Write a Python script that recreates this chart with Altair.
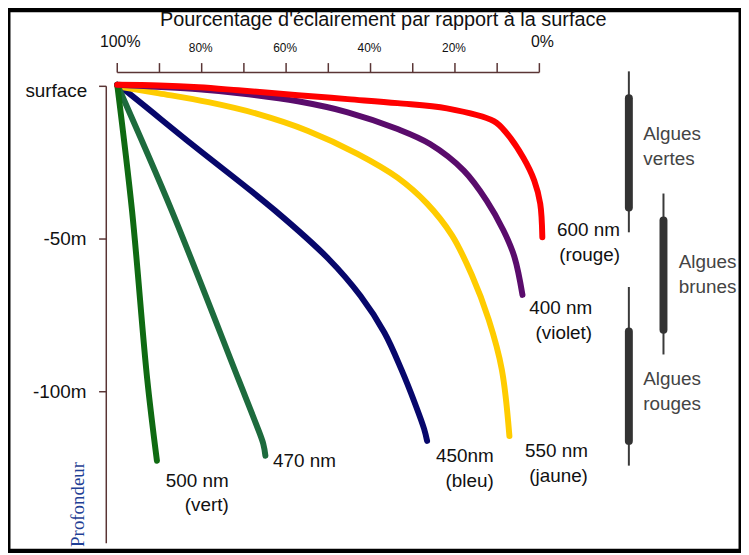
import altair as alt
import pandas as pd

# ---------------- data ----------------
# x = % of surface light (100 -> 0), depth in metres (0 = surface)
x_500 = [100, 96.5, 92.9, 90.6]
d_500 = [0.5, -40.7, -95.9, -122.6]
x_470 = [100, 87.1, 71.3, 67.1, 65.4, 64.9]
d_470 = [0.5, -40.7, -95.9, -110.6, -117.1, -121.0]
x_450 = [100, 97.9, 82.4, 62.6, 50.1, 42.4, 36.7, 32.7, 29.4, 27.3, 26.6]
d_450 = [0.5, -1.6, -18.9, -40.7, -56.3, -68.6, -80.7, -92.7, -104.1, -112.2, -116.1]
x_550 = [100, 90.1, 78.4, 66.6, 54.8, 43.1, 33.6, 26.6, 20.7, 16.0, 12.0, 8.9, 7.1]
d_550 = [0, -2.3, -5.2, -9.1, -14.6, -22.1, -29.9, -38.4, -48.8, -61.8, -76.4, -92.7, -114.5]
x_400 = [100, 80.7, 68.9, 57.2, 45.4, 33.6, 25.9, 17.9, 12.5, 8.5, 5.9, 4.0]
d_400 = [0.5, -1.0, -2.6, -4.9, -8.5, -14.0, -18.9, -27.6, -37.4, -47.2, -55.9, -68.3]
x_600 = [100, 90.1, 80.7, 71.3, 57.2, 45.4, 33.6, 21.9, 10.8, 7.8, 3.8, 1.2, -0.2, -0.7]
d_600 = [0.5, 0.3, -0.3, -1.3, -2.9, -4.2, -5.5, -7.2, -11.4, -15.3, -23.4, -30.9, -38.4, -49.4]

x_ticks = [100, 90, 80, 70, 60, 50, 40, 30, 20, 10, 0]
x_big_labels = [100, 0]
x_big_text = ["100%", "0%"]
x_small_labels = [80, 60, 40, 20]
x_small_text = ["80%", "60%", "40%", "20%"]

y_ticks = [0, -50, -100]
y_label_values = [-50, -100]
y_label_text = ["-50m", "-100m"]

# wavelength annotations (anchor in data units, right aligned)
wl_text = ["600 nm", "(rouge)", "400 nm", "(violet)", "500 nm", "(vert)",
           "470 nm", "450nm", "(bleu)", "550 nm", "(jaune)"]
wl_x = [-19.1, -19.1, -12.5, -12.5, 73.6, 73.6, 48.2, 10.8, 10.8, -11.5, -11.5]
wl_d = [-47.2, -55.3, -72.5, -80.7, -129.1, -137.2, -122.6, -121.0, -129.1, -119.3, -127.5]

# algae depth ranges
alg_x = [-21.2, -29.4, -21.2]
alg_thin_top = [4.9, -35.1, -65.7]
alg_thin_bot = [-47.8, -87.8, -124.2]
alg_thick_top = [-3.9, -43.9, -80.3]
alg_thick_bot = [-39.7, -79.7, -116.1]
alg_text = ["Algues", "vertes", "Algues", "brunes", "Algues", "rouges"]
alg_tx = [-24.6, -24.6, -33.0, -33.0, -24.6, -24.6]
alg_td = [-15.6, -23.7, -57.6, -65.7, -95.9, -104.1]

# ---------------- layout / style ----------------
W, H = 738, 545
X_DOMAIN = [125.882, -47.765]
Y_DOMAIN = [-152.2, 25.04]
SANS = "Liberation Sans"
AXIS_COLOR = "#5a3535"

xs = alt.Scale(domain=X_DOMAIN, nice=False, zero=False)
ys = alt.Scale(domain=Y_DOMAIN, nice=False, zero=False)


def X(f):
    return alt.X(f, type="quantitative", scale=xs, axis=None)


def Y(f):
    return alt.Y(f, type="quantitative", scale=ys, axis=None)


def XD(v):
    return alt.XDatum(v, type="quantitative", scale=xs, axis=None)


def YD(v):
    return alt.YDatum(v, type="quantitative", scale=ys, axis=None)


layers = []

# curves
curves = [
    (x_450, d_450, "#07076b"),
    (x_550, d_550, "#ffcc00"),
    (x_470, d_470, "#1d6b3d"),
    (x_500, d_500, "#0f6a12"),
    (x_400, d_400, "#5a0c6c"),
    (x_600, d_600, "#ff0000"),
]
for xv, dv, col in curves:
    df = pd.DataFrame({"x": xv, "d": dv, "i": list(range(len(xv)))})
    layers.append(
        alt.Chart(df).mark_line(strokeWidth=6, strokeCap="round", strokeJoin="round",
                                interpolate="catmull-rom", color=col)
        .encode(x=X("x"), y=Y("d"), order=alt.Order("i:Q"))
    )

one = pd.DataFrame({"a": [0]})

# top axis
layers.append(alt.Chart(one).mark_rule(color=AXIS_COLOR, strokeWidth=1.5)
              .encode(x=XD(100), x2=alt.X2Datum(0), y=YD(4.55)))
layers.append(alt.Chart(pd.DataFrame({"v": x_ticks})).mark_rule(color=AXIS_COLOR, strokeWidth=1.5)
              .encode(x=X("v"), y=YD(7.6), y2=alt.Y2Datum(4.55)))
layers.append(alt.Chart(pd.DataFrame({"v": x_big_labels, "t": x_big_text}))
              .mark_text(font=SANS, fontSize=16, color="#111", baseline="middle", align="center", dx=3)
              .encode(x=X("v"), y=YD(14.6), text="t:N"))
layers.append(alt.Chart(pd.DataFrame({"v": x_small_labels, "t": x_small_text}))
              .mark_text(font=SANS, fontSize=12, color="#111", baseline="middle", align="center", dx=-1)
              .encode(x=X("v"), y=YD(12.7), text="t:N"))
layers.append(alt.Chart(one).mark_text(font=SANS, fontSize=20, color="#111", baseline="middle", align="center",
                                       text="Pourcentage d'éclairement par rapport à la surface")
              .encode(x=XD(37.0), y=YD(21.6)))

# left axis
layers.append(alt.Chart(one).mark_rule(color=AXIS_COLOR, strokeWidth=1.5)
              .encode(x=XD(102.6), y=YD(0), y2=alt.Y2Datum(-149.6)))
layers.append(alt.Chart(pd.DataFrame({"v": y_ticks})).mark_rule(color=AXIS_COLOR, strokeWidth=1.5)
              .encode(x=XD(104.3), x2=alt.X2Datum(102.6), y=Y("v")))
layers.append(alt.Chart(one).mark_text(font=SANS, fontSize=19, color="#111", baseline="middle", align="right",
                                       text="surface", dy=5)
              .encode(x=XD(107.1), y=YD(0)))
layers.append(alt.Chart(pd.DataFrame({"v": y_label_values, "t": y_label_text}))
              .mark_text(font=SANS, fontSize=19, color="#111", baseline="middle", align="right")
              .encode(x=XD(107.3), y=Y("v"), text="t:N"))
layers.append(alt.Chart(one).mark_text(font="Liberation Serif", fontSize=19, color="#1f3f95",
                                       baseline="middle", align="left", angle=270, text="Profondeur")
              .encode(x=XD(109.4), y=YD(-150.8)))

# wavelength labels
layers.append(alt.Chart(pd.DataFrame({"x": wl_x, "d": wl_d, "t": wl_text}))
              .mark_text(font=SANS, fontSize=19, color="#111", baseline="middle", align="right")
              .encode(x=X("x"), y=Y("d"), text="t:N"))

# algae bars
alg = pd.DataFrame({"x": alg_x, "t1": alg_thin_top, "b1": alg_thin_bot,
                    "t2": alg_thick_top, "b2": alg_thick_bot})
layers.append(alt.Chart(alg).mark_rule(color="#3a3a3a", strokeWidth=2)
              .encode(x=X("x"), y=Y("t1"), y2="b1:Q"))
layers.append(alt.Chart(alg).mark_rule(color="#333333", strokeWidth=8, strokeCap="round")
              .encode(x=X("x"), y=Y("t2"), y2="b2:Q"))
layers.append(alt.Chart(pd.DataFrame({"x": alg_tx, "d": alg_td, "t": alg_text}))
              .mark_text(font=SANS, fontSize=19, color="#444444", baseline="middle", align="left")
              .encode(x=X("x"), y=Y("d"), text="t:N"))

chart = (
    alt.layer(*layers)
    .properties(width=W, height=H, autosize=alt.AutoSizeParams(type="none"), padding=0,
                background="white")
    .configure_view(stroke="black", strokeWidth=5)
)

chart.save("out.html", embed_options={"renderer": "svg", "actions": False})
